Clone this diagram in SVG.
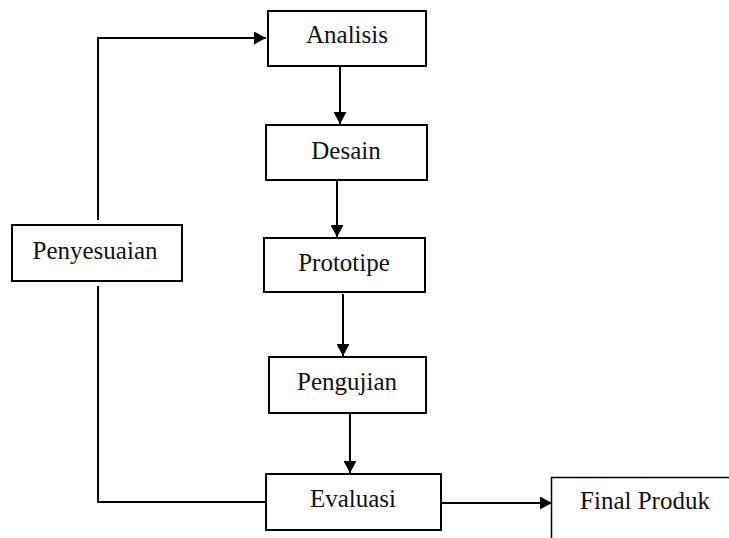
<svg xmlns="http://www.w3.org/2000/svg" width="729" height="538" viewBox="0 0 729 538">
<style>
.box{fill:#fff;stroke:#000;stroke-width:2}
.lbl{font-family:"Liberation Serif","Times New Roman",serif;font-size:25px;fill:#111;text-anchor:middle}
.con{fill:none;stroke:#000;stroke-width:2}
</style>
<defs>
<marker id="ah" markerUnits="userSpaceOnUse" markerWidth="13" markerHeight="13" refX="12" refY="6.5" orient="auto">
<path d="M0,0 L12,6.5 L0,13 z" fill="#000"/>
</marker>
</defs>
<rect width="729" height="538" fill="#fff"/>
<g id="connectors">
<line class="con" x1="340" y1="67" x2="340" y2="124" marker-end="url(#ah)"/>
<line class="con" x1="337" y1="181" x2="337" y2="237" marker-end="url(#ah)"/>
<line class="con" x1="343" y1="294" x2="343" y2="356" marker-end="url(#ah)"/>
<line class="con" x1="350" y1="414" x2="350" y2="473" marker-end="url(#ah)"/>
<line class="con" x1="441" y1="503" x2="552" y2="503" marker-end="url(#ah)"/>
<polyline class="con" points="266,502 98,502 98,286"/>
<polyline class="con" points="98,220 98,38 266,38" marker-end="url(#ah)"/>
</g>
<g id="analisis">
<rect class="box" x="268" y="11" width="158" height="55"/>
<text class="lbl" x="347" y="43">Analisis</text>
</g>
<g id="desain">
<rect class="box" x="266" y="125" width="161" height="55"/>
<text class="lbl" x="346" y="159">Desain</text>
</g>
<g id="prototipe">
<rect class="box" x="264" y="238" width="161" height="54"/>
<text class="lbl" x="344" y="271">Prototipe</text>
</g>
<g id="pengujian">
<rect class="box" x="269" y="357" width="157" height="56"/>
<text class="lbl" x="347" y="390">Pengujian</text>
</g>
<g id="evaluasi">
<rect class="box" x="266" y="474" width="175" height="56"/>
<text class="lbl" x="353" y="507">Evaluasi</text>
</g>
<g id="penyesuaian">
<rect class="box" x="12" y="225" width="170" height="56"/>
<text class="lbl" x="95" y="259">Penyesuaian</text>
</g>
<g id="final-produk">
<path d="M729,477.5 H551.5 V538" fill="none" stroke="#000" stroke-width="1.5"/>
<text class="lbl" x="645" y="509">Final Produk</text>
</g>
</svg>
